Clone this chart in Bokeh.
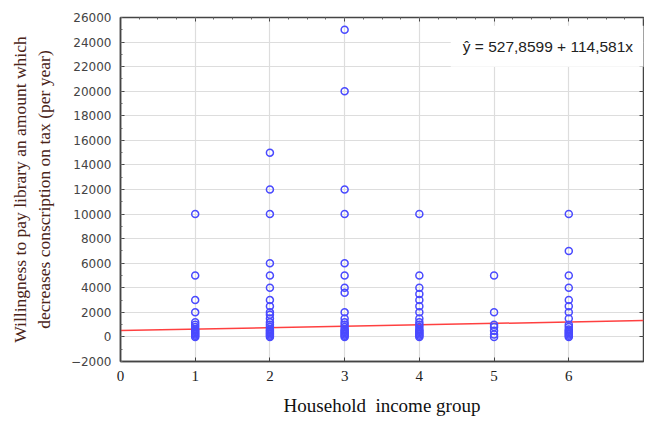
from bokeh.plotting import figure
from bokeh.models import Label, LinearAxis, FixedTicker, Range1d
from bokeh.embed import file_html
from bokeh.resources import INLINE

# Willingness to pay values per household income group
group1 = [10000, 5000, 3000, 2000, 1200, 1000, 800, 600, 500, 400, 300, 200, 100, 0]
group2 = [15000, 12000, 10000, 6000, 5000, 4000, 3000, 2500, 2000, 1800, 1500, 1200,
          1000, 800, 600, 500, 400, 300, 200, 100, 0]
group3 = [25000, 20000, 12000, 10000, 6000, 5000, 4000, 3600, 2000, 1500, 1200, 1000,
          800, 600, 500, 400, 300, 200, 100, 0]
group4 = [10000, 5000, 4000, 3500, 3000, 2500, 2000, 1500, 1200, 1000, 800, 600, 500,
          400, 300, 200, 100, 0]
group5 = [5000, 2000, 1000, 800, 500, 200, 0]
group6 = [10000, 7000, 5000, 4000, 3000, 2500, 2000, 1500, 1000, 800, 600, 500, 400,
          300, 200, 100, 0]
groups = [1, 2, 3, 4, 5, 6]

intercept = 527.8599
slope = 114.581
line_x = [0, 7]

x_ticks = [0, 1, 2, 3, 4, 5, 6]
y_ticks = list(range(-2000, 26001, 2000))

xs, ys = [], []
for g, vals in zip(groups, [group1, group2, group3, group4, group5, group6]):
    xs += [g] * len(vals)
    ys += vals

p = figure(width=644, height=421, output_backend="svg", toolbar_location=None,
           x_range=Range1d(0, 7), y_range=Range1d(-2000, 26000),
           min_border_left=120, min_border_right=1, min_border_top=17, min_border_bottom=60)
p.background_fill_color = "white"
p.border_fill_color = "white"
p.outline_line_color = "#444444"
p.outline_line_width = 1.5

p.xgrid.ticker = FixedTicker(ticks=[1, 2, 3, 4, 5, 6])
p.ygrid.ticker = FixedTicker(ticks=y_ticks)
p.xgrid.grid_line_color = "#dddddd"
p.ygrid.grid_line_color = "#dddddd"
p.grid.grid_line_width = 1.2

p.xaxis.ticker = FixedTicker(ticks=x_ticks)
p.yaxis.ticker = FixedTicker(ticks=y_ticks, minor_ticks=list(range(-2000, 26001, 1000)))
for ax in [p.xaxis[0], p.yaxis[0]]:
    ax.axis_line_color = "#444444"
    ax.axis_line_width = 1.5
    ax.major_tick_in = 4
    ax.major_tick_out = 0
    ax.minor_tick_in = 2
    ax.minor_tick_out = 0
    ax.major_tick_line_color = "#444444"
    ax.minor_tick_line_color = "#666666"
p.yaxis.major_label_text_font = "DejaVu Sans"
p.yaxis.major_label_text_font_size = "12px"
p.yaxis.major_label_text_color = "#444444"
p.yaxis.major_label_standoff = 9
p.xaxis.major_label_text_font = "Liberation Serif"
p.xaxis.major_label_text_font_size = "15px"
p.xaxis.major_label_text_color = "#222222"
p.xaxis.major_label_standoff = 9
p.xaxis.minor_tick_line_color = None

p.xaxis.axis_label = "Household\u00a0 income group"
p.xaxis.axis_label_text_font = "Liberation Serif"
p.xaxis.axis_label_text_font_style = "normal"
p.xaxis.axis_label_text_font_size = "19px"
p.xaxis.axis_label_text_color = "#111111"
p.xaxis.axis_label_standoff = 11

p.yaxis.axis_label = "Willingness to pay library an amount which\ndecreases conscription on tax (per year)"
p.yaxis.axis_label_text_font = "Liberation Serif"
p.yaxis.axis_label_text_font_style = "normal"
p.yaxis.axis_label_text_font_size = "17.5px"
p.yaxis.axis_label_text_color = "#4a2418"
p.yaxis.axis_label_standoff = 14

top = LinearAxis(ticker=FixedTicker(ticks=[0, 1, 2, 3, 4, 5, 6, 7],
                                    minor_ticks=[i * 0.25 for i in range(29)]),
                 major_label_text_font_size="0px", major_tick_in=4, major_tick_out=0,
                 minor_tick_in=2, minor_tick_out=0, axis_line_color=None,
                 major_tick_line_color="#444444", minor_tick_line_color="#666666")
right = LinearAxis(ticker=FixedTicker(ticks=y_ticks), major_label_text_font_size="0px",
                   major_tick_in=4, major_tick_out=0, minor_tick_line_color=None,
                   axis_line_color=None, major_tick_line_color="#444444")
p.add_layout(top, "above")
p.add_layout(right, "right")

p.line(line_x, [intercept + slope * x for x in line_x], line_color="#ff4040", line_width=1.5)
p.scatter(xs, ys, marker="circle", size=7, fill_color=None, line_color="#4a4aff", line_width=1.5)

eq = Label(x=4.42, y=23650, text="ŷ = 527,8599 + 114,581x", text_font="Liberation Sans",
           text_font_size="15.5px", text_color="#222222", text_baseline="middle",
           background_fill_color="white", padding=12)
p.add_layout(eq)

open("out.html", "w").write(file_html(p, INLINE))
